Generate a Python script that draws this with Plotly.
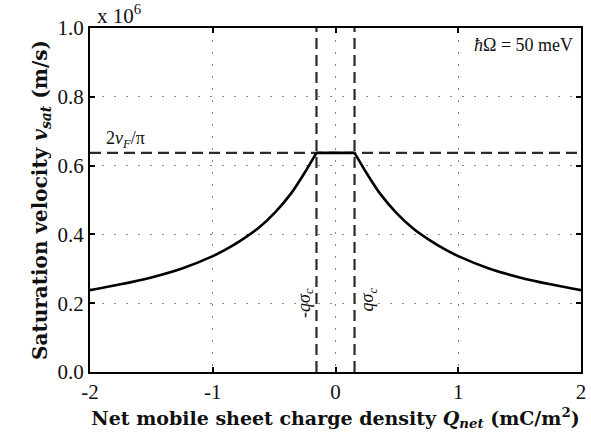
import plotly.graph_objects as go

# Saturation velocity (x 10^6 m/s) versus net mobile sheet charge density (mC/m^2)
q_branch = [0.155, 0.25, 0.36, 0.49, 0.63, 0.76, 0.90, 1.00, 1.25, 1.50, 1.75, 2.00]
v_branch = [0.637, 0.580, 0.520, 0.465, 0.418, 0.385, 0.355, 0.337, 0.301, 0.275, 0.255, 0.238]

v_limit = 0.637          # 2 vF / pi
q_crit = 0.155           # q sigma_c

x_ticks = [-2, -1, 0, 1, 2]
x_labels = ["-2", "-1", "0", "1", "2"]
y_ticks = [0.0, 0.2, 0.4, 0.6, 0.8, 1.0]
y_labels = ["0.0", "0.2", "0.4", "0.6", "0.8", "1.0"]

q_left = [-q for q in reversed(q_branch)]
v_left = list(reversed(v_branch))

serif = "DejaVu Serif"
tick_font = dict(family="Liberation Serif", size=21, color="#111")

fig = go.Figure()

dash_style = dict(color="#2a2a2a", width=2.2, dash="11px,6px")
fig.add_trace(go.Scatter(x=[-2, 2], y=[v_limit, v_limit], mode="lines",
                         line=dash_style, hoverinfo="skip", showlegend=False))
for qc in (-q_crit, q_crit):
    fig.add_trace(go.Scatter(x=[qc, qc], y=[0, 1], mode="lines",
                             line=dash_style, hoverinfo="skip", showlegend=False))

curve_style = dict(color="black", width=2.6, shape="spline", smoothing=0.5)
fig.add_trace(go.Scatter(x=q_left, y=v_left, mode="lines", line=curve_style, showlegend=False))
fig.add_trace(go.Scatter(x=q_branch, y=v_branch, mode="lines", line=curve_style, showlegend=False))
fig.add_trace(go.Scatter(x=[-q_crit, q_crit], y=[v_limit, v_limit], mode="lines",
                         line=dict(color="black", width=2.6), showlegend=False))

axis_common = dict(showline=True, linecolor="black", linewidth=2, mirror="ticks",
                   ticks="inside", ticklen=5, tickwidth=1.5, tickcolor="black",
                   showgrid=True, gridcolor="#8a8a8a", gridwidth=1, griddash="2px,10px",
                   zeroline=False, tickfont=tick_font)

fig.update_xaxes(range=[-2, 2], tickvals=x_ticks, ticktext=x_labels,
                 title=dict(text="Net mobile sheet charge density <i>Q<sub>net</sub></i> (mC/m<sup>2</sup>)",
                            font=dict(family=serif, size=19, color="#111", weight="bold"), standoff=8),
                 **axis_common)
fig.update_yaxes(range=[0, 1], tickvals=y_ticks, ticktext=y_labels,
                 title=dict(text="Saturation velocity <i>v<sub>sat</sub></i> (m/s)",
                            font=dict(family=serif, size=20, color="#111", weight="bold"), standoff=5),
                 **axis_common)

fig.add_annotation(xref="paper", yref="paper", x=0.01, y=1.04, xanchor="left", yanchor="middle",
                   text="x 10<sup>6</sup>", showarrow=False,
                   font=dict(family="Liberation Serif", size=21, color="#111"))
fig.add_annotation(x=1.95, y=0.95, xanchor="right", yanchor="middle",
                   text="<i>ħ</i>Ω = 50 meV", showarrow=False,
                   font=dict(family="Liberation Serif", size=18, color="#111"))
fig.add_annotation(x=-1.89, y=0.675, xanchor="left", yanchor="middle",
                   text="2<i>v<sub>F</sub></i>/π", showarrow=False,
                   font=dict(family="Liberation Serif", size=18, color="#111"))
fig.add_annotation(x=-0.25, y=0.20, textangle=-90, xanchor="center", yanchor="middle",
                   text="-<i>qσ<sub>c</sub></i>", showarrow=False,
                   font=dict(family="Liberation Serif", size=18, color="#111"))
fig.add_annotation(x=0.27, y=0.21, textangle=-90, xanchor="center", yanchor="middle",
                   text="<i>qσ<sub>c</sub></i>", showarrow=False,
                   font=dict(family="Liberation Serif", size=18, color="#111"))

fig.update_layout(width=591, height=442, margin=dict(l=90, r=5, t=28, b=70),
                  plot_bgcolor="white", paper_bgcolor="white")

fig.write_html("out.html")
